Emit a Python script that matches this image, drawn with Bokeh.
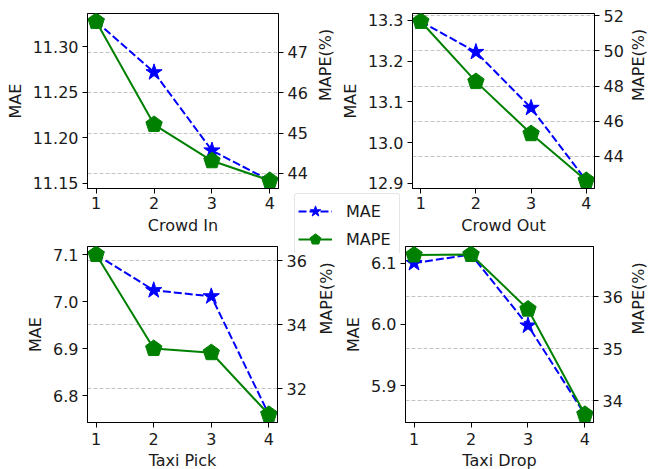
import numpy as np
from bokeh.plotting import figure
from bokeh.models import (Range1d, LinearAxis, FixedTicker, PrintfTickFormatter,
                          Grid, Legend, LegendItem)
from bokeh.layouts import row, column
from bokeh.embed import file_html
from bokeh.resources import INLINE

# ---------------- data ----------------
x_vals = [1, 2, 3, 4]
panel_names = ["Crowd In", "Crowd Out", "Taxi Pick", "Taxi Drop"]

mae_crowd_in = [11.328, 11.272, 11.186, 11.153]
mape_crowd_in = [47.77, 45.21, 44.31, 43.82]
mae_crowd_out = [13.297, 13.222, 13.085, 12.907]
mape_crowd_out = [51.67, 48.25, 45.29, 42.63]
mae_taxi_pick = [7.100, 7.024, 7.011, 6.760]
mape_taxi_pick = [36.20, 33.26, 33.13, 31.20]
mae_taxi_drop = [6.100, 6.114, 5.998, 5.853]
mape_taxi_drop = [36.80, 36.81, 35.76, 33.74]

mae_ticks_crowd_in = [11.15, 11.20, 11.25, 11.30]
mape_ticks_crowd_in = [44, 45, 46, 47]
mae_ticks_crowd_out = [12.9, 13.0, 13.1, 13.2, 13.3]
mape_ticks_crowd_out = [44, 46, 48, 50, 52]
mae_ticks_taxi_pick = [6.8, 6.9, 7.0, 7.1]
mape_ticks_taxi_pick = [32, 34, 36]
mae_ticks_taxi_drop = [5.9, 6.0, 6.1]
mape_ticks_taxi_drop = [34, 35, 36]
mae_formats = ["%.2f", "%.1f", "%.1f", "%.1f"]

FONT = "DejaVu Sans"
FS = "16px"
TXT = "#1a1a1a"
PENT_R = 8.6
PENT_ANGLE = 0.0


def padded(vals, frac=0.05):
    lo, hi = float(min(vals)), float(max(vals))
    d = (hi - lo) * frac
    return Range1d(lo - d, hi + d)


def style_axis(ax):
    ax.major_tick_out = 5
    ax.major_tick_in = 0
    ax.minor_tick_out = 0
    ax.minor_tick_in = 0
    ax.major_label_text_font = FONT
    ax.major_label_text_font_size = FS
    ax.major_label_text_color = TXT
    ax.axis_label_text_font = FONT
    ax.axis_label_text_font_size = FS
    ax.axis_label_text_font_style = "normal"
    ax.axis_label_text_color = TXT
    ax.axis_line_color = "black"
    ax.major_tick_line_color = "black"
    ax.major_label_standoff = 4


def make_panel(name, mae, mape, mae_ticks, mape_ticks, fmt, geom):
    w, h, bl, br, bt, bb, lab_sl, lab_sr, tick_sb, lab_sb = geom
    xr = padded(x_vals)
    mr = padded(mape)
    p = figure(width=w, height=h, min_border_left=bl, min_border_right=br,
               min_border_top=bt, min_border_bottom=bb,
               x_range=xr, y_range=padded(mae),
               output_backend="svg", toolbar_location=None)
    p.extra_y_ranges = {"mape": mr}
    p.xgrid.visible = False
    p.ygrid.visible = False
    p.outline_line_color = "black"
    p.outline_line_alpha = 1.0
    p.background_fill_color = "white"
    p.border_fill_alpha = 0

    # right MAPE axis
    rax = LinearAxis(y_range_name="mape", ticker=FixedTicker(ticks=mape_ticks))
    p.add_layout(rax, "right")
    style_axis(rax)

    # right axis title, reading bottom-to-top, centred on the frame
    tax = LinearAxis(y_range_name="mape",
                     ticker=FixedTicker(ticks=[(mr.start + mr.end) / 2]),
                     formatter=PrintfTickFormatter(format="MAPE(%%)"))
    p.add_layout(tax, "right")
    style_axis(tax)
    tax.axis_line_color = None
    tax.major_tick_line_color = None
    tax.major_tick_out = 0
    tax.major_label_orientation = np.pi / 2
    tax.major_label_standoff = lab_sr

    p.xaxis.ticker = FixedTicker(ticks=x_vals)
    p.xaxis.axis_label = name
    p.yaxis[0].ticker = FixedTicker(ticks=mae_ticks)
    p.yaxis[0].formatter = PrintfTickFormatter(format=fmt)
    p.yaxis[0].axis_label = "MAE"
    style_axis(p.xaxis[0])
    style_axis(p.yaxis[0])
    p.xaxis.major_label_standoff = tick_sb
    p.xaxis.axis_label_standoff = lab_sb
    p.yaxis[0].axis_label_standoff = lab_sl

    p.add_layout(Grid(dimension=1, ticker=rax.ticker, y_range_name="mape",
                      grid_line_color="#c4c4c4", grid_line_dash="4 2",
                      grid_line_width=1))

    p.line(x_vals, mae, line_color="blue", line_width=2, line_dash="8 3")
    p.scatter(x_vals, mae, marker="star", size=17, fill_color="blue",
              line_color="blue")
    p.line(x_vals, mape, y_range_name="mape", line_color="green", line_width=2)
    p.ngon(x=x_vals, y=mape, radius=PENT_R, radius_units="screen", n=5,
           angle=PENT_ANGLE, y_range_name="mape", fill_color="green",
           line_color="green")
    return p


# geometry: width, height, border left, right, top, bottom,
#           MAE standoff, MAPE-title standoff, x tick standoff, x-label standoff
g_tl = (347, 241, 87, 64, 12, 53, 5, 15, 3, 4)
g_tr = (323, 241, 69, 61, 13, 53, 5, 12, 3, 4)
g_bl = (348, 232, 87, 66, 5, 51, 5, 17, 5, 3)
g_br = (323, 232, 68, 62, 5, 51, 5, 13, 5, 3)

p1 = make_panel(panel_names[0], mae_crowd_in, mape_crowd_in, mae_ticks_crowd_in,
                mape_ticks_crowd_in, mae_formats[0], g_tl)
p2 = make_panel(panel_names[1], mae_crowd_out, mape_crowd_out, mae_ticks_crowd_out,
                mape_ticks_crowd_out, mae_formats[1], g_tr)
p3 = make_panel(panel_names[2], mae_taxi_pick, mape_taxi_pick, mae_ticks_taxi_pick,
                mape_ticks_taxi_pick, mae_formats[2], g_bl)
p4 = make_panel(panel_names[3], mae_taxi_drop, mape_taxi_drop, mae_ticks_taxi_drop,
                mape_ticks_taxi_drop, mae_formats[3], g_br)
# let neighbouring figures share their (transparent) border strips
p2.margin = (0, 0, 0, -10)
p4.margin = (0, 0, 0, -11)

# ---------------- shared legend (overlay figure) ----------------
leg = figure(width=106, height=60, min_border=0, x_axis_type=None, y_axis_type=None,
             x_range=Range1d(-20, -10), y_range=Range1d(-20, -10),
             output_backend="svg", toolbar_location=None)
leg.outline_line_color = None
leg.background_fill_alpha = 0
leg.border_fill_alpha = 0
r1 = leg.line(x_vals, mae_crowd_in, line_color="blue", line_width=2, line_dash="8 3")
r2 = leg.scatter(x_vals, mae_crowd_in, marker="star", size=17, fill_color="blue",
                 line_color="blue")
r3 = leg.line(x_vals, mape_crowd_in, line_color="green", line_width=2)
r4 = leg.ngon(x=x_vals, y=mape_crowd_in, radius=PENT_R, radius_units="screen", n=5,
              angle=PENT_ANGLE, fill_color="green", line_color="green")
legend = Legend(items=[LegendItem(label="MAE", renderers=[r1, r2]),
                       LegendItem(label="MAPE", renderers=[r3, r4])],
                location="top_left", margin=0, padding=3, spacing=-8,
                glyph_width=34, glyph_height=28, label_standoff=14, label_width=50,
                label_height=20,
                label_text_font=FONT, label_text_font_size=FS, label_text_color=TXT,
                border_line_color="#cccccc", border_line_width=1,
                background_fill_color="white", background_fill_alpha=0.85)
try:
    legend.border_radius = 3
except Exception:
    pass
leg.add_layout(legend)
leg.margin = (-280, 0, 216, 294)

layout = column(row(p1, p2), row(p3, p4), leg, width=649,
                styles={"overflow": "hidden"})
open("out.html", "w").write(file_html(layout, INLINE))
